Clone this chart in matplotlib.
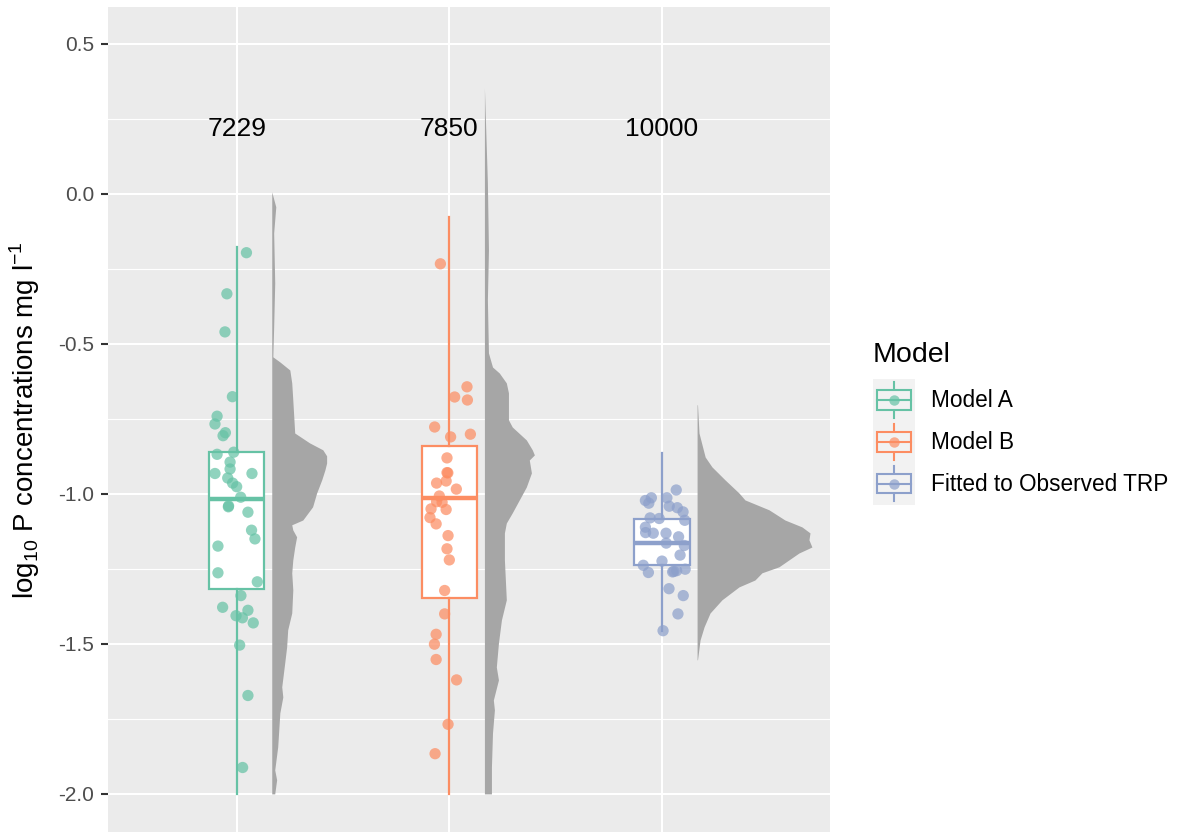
import numpy as np
import matplotlib
matplotlib.use('Agg')
import matplotlib.pyplot as plt
from matplotlib.legend_handler import HandlerBase
from matplotlib.lines import Line2D
from matplotlib.patches import Rectangle

# groups and colours
models = ['Model A', 'Model B', 'Fitted to Observed TRP']
colors = ['#66C2A5', '#FC8D62', '#8DA0CB']
counts = [7229, 7850, 10000]

# boxplot summaries (log10 P)
box_q1 = [-1.318, -1.348, -1.237]
box_med = [-1.018, -1.012, -1.163]
box_q3 = [-0.861, -0.839, -1.084]
box_lo = [-2.0, -2.0, -1.456]
box_hi = [-0.176, -0.076, -0.862]

# jittered sample points
model_a_y = [-0.196, -0.333, -0.46, -0.676, -0.741, -0.767, -0.796, -0.806, -0.868,
             -0.861, -0.894, -0.917, -0.932, -0.932, -0.947, -0.964, -0.976, -1.011,
             -1.043, -1.040, -1.061, -1.121, -1.15, -1.174, -1.263, -1.293, -1.339,
             -1.378, -1.388, -1.406, -1.413, -1.43, -1.504, -1.672, -1.912]
model_a_jit = [0.046, -0.046, -0.055, -0.020, -0.092, -0.102, -0.053, -0.064, -0.092,
               -0.014, -0.031, -0.031, -0.102, 0.072, -0.042, -0.019, 0.0, 0.019,
               -0.039, -0.038, 0.053, 0.070, 0.086, -0.088, -0.088, 0.097, 0.020,
               -0.066, 0.053, -0.003, 0.027, 0.078, 0.014, 0.053, 0.028]

model_b_y = [-0.233, -0.643, -0.677, -0.687, -0.777, -0.81, -0.801, -0.88, -0.929,
             -0.93, -0.964, -0.957, -0.984, -1.007, -1.026, -1.028, -1.05, -1.052,
             -1.079, -1.1, -1.139, -1.183, -1.22, -1.322, -1.40, -1.468, -1.501,
             -1.552, -1.62, -1.768, -1.866]
model_b_jit = [-0.042, 0.083, 0.025, 0.085, -0.069, 0.006, 0.099, -0.011, -0.011,
               -0.007, -0.060, -0.015, 0.033, -0.047, -0.060, -0.034, -0.086, -0.015,
               -0.091, -0.062, -0.006, -0.011, 0.0, -0.022, -0.022, -0.062, -0.070,
               -0.062, 0.034, -0.006, -0.067]

fitted_y = [-0.987, -1.022, -1.013, -1.031, -1.013, -1.041, -1.046, -1.06, -1.08,
            -1.082, -1.088, -1.111, -1.129, -1.131, -1.131, -1.143, -1.164, -1.172,
            -1.204, -1.224, -1.238, -1.262, -1.26, -1.256, -1.251, -1.258, -1.316,
            -1.339, -1.40, -1.456]
fitted_jit = [0.067, -0.078, -0.050, -0.062, 0.023, 0.034, 0.072, 0.099, -0.056,
              -0.013, 0.107, -0.078, -0.077, -0.041, 0.019, 0.078, 0.020, 0.105,
              0.085, 0.0, -0.088, -0.064, 0.050, 0.069, 0.109, 0.056, 0.033,
              0.100, 0.075, 0.005]

# half-violin outlines: level and width (x units)
dens_a_y = [0.007, -0.043, -0.13, -0.297, -0.443, -0.543, -0.56, -0.587, -0.63, -0.687,
            -0.797, -0.83, -0.853, -0.873, -0.897, -0.92, -0.953, -0.997, -1.043, -1.087,
            -1.103, -1.12, -1.143, -1.177, -1.22, -1.263, -1.32, -1.397, -1.453, -1.51,
            -1.563, -1.643, -1.677, -1.73, -1.843, -1.92, -1.953, -2.0]
dens_a_w = [0.0, 0.019, 0.009, 0.014, 0.009, 0.005, 0.038, 0.085, 0.094, 0.099,
            0.108, 0.178, 0.240, 0.258, 0.258, 0.250, 0.235, 0.211, 0.192, 0.146,
            0.094, 0.099, 0.117, 0.108, 0.099, 0.094, 0.099, 0.094, 0.075, 0.07,
            0.061, 0.047, 0.052, 0.038, 0.028, 0.014, 0.023, 0.014]

dens_b_y = [0.353, 0.037, -0.187, -0.353, -0.53, -0.577, -0.597, -0.63, -0.663, -0.753,
            -0.777, -0.82, -0.853, -0.87, -0.887, -0.93, -0.977, -1.02, -1.063, -1.097,
            -1.13, -1.22, -1.353, -1.42, -1.497, -1.577, -1.62, -1.687, -1.72, -1.797,
            -1.91, -2.0]
dens_b_w = [0.0, 0.014, 0.019, 0.014, 0.019, 0.038, 0.07, 0.103, 0.113, 0.113,
            0.131, 0.197, 0.225, 0.235, 0.211, 0.221, 0.197, 0.164, 0.131, 0.103,
            0.094, 0.094, 0.103, 0.08, 0.066, 0.056, 0.066, 0.042, 0.047, 0.038,
            0.033, 0.033]

dens_c_y = [-0.703, -0.797, -0.877, -0.91, -0.953, -0.997, -1.02, -1.053, -1.087, -1.11,
            -1.13, -1.153, -1.177, -1.197, -1.22, -1.243, -1.263, -1.287, -1.31, -1.353,
            -1.397, -1.443, -1.487, -1.553]
dens_c_w = [0.002, 0.009, 0.038, 0.07, 0.131, 0.197, 0.225, 0.338, 0.413, 0.493,
            0.531, 0.526, 0.54, 0.479, 0.432, 0.385, 0.305, 0.272, 0.197, 0.117,
            0.061, 0.033, 0.014, 0.002]

y_ticks = [-2.0, -1.5, -1.0, -0.5, 0.0, 0.5]


class BoxKeyHandler(HandlerBase):
    # ggplot-like boxplot legend key
    def create_artists(self, legend, orig_handle, xdescent, ydescent,
                       width, height, fontsize, trans):
        c = orig_handle.get_color()
        x0, y0 = -xdescent, -ydescent
        xc = x0 + width / 2
        yc = y0 + height / 2
        bg = Rectangle((x0, y0), width, height, facecolor='#F2F2F2',
                       edgecolor='none', transform=trans)
        whisk = Line2D([xc, xc], [y0 + 0.08 * height, y0 + 0.92 * height],
                       color=c, lw=1.5, transform=trans)
        box = Rectangle((x0 + 0.1 * width, y0 + 0.27 * height), 0.8 * width,
                        0.46 * height, facecolor='#F2F2F2', edgecolor=c,
                        lw=1.5, transform=trans)
        med = Line2D([x0 + 0.1 * width, x0 + 0.9 * width], [yc, yc],
                     color=c, lw=1.5, transform=trans)
        dot = Line2D([xc], [yc], marker='o', ms=7.5, color=c, alpha=0.7,
                     mec='none', transform=trans)
        return [bg, whisk, box, med, dot]


def main():
    plt.rcParams['font.family'] = ['Liberation Sans', 'DejaVu Sans']
    plt.rcParams['mathtext.fontset'] = 'custom'
    plt.rcParams['mathtext.rm'] = 'Liberation Sans'
    plt.rcParams['axes.unicode_minus'] = False

    fig = plt.figure(figsize=(11.78, 8.32), dpi=100)
    ax = fig.add_axes([108 / 1178, 0.0, 722 / 1178, 825 / 832])
    ax.set_facecolor('#EBEBEB')
    for s in ax.spines.values():
        s.set_visible(False)

    pos = np.arange(1, len(models) + 1)

    # half violins
    dens = [(dens_a_y, dens_a_w), (dens_b_y, dens_b_w), (dens_c_y, dens_c_w)]
    for p, (dy, dw) in zip(pos, dens):
        base = p + 0.165
        ax.fill_betweenx(dy, base, base + np.array(dw), color='#A6A6A6',
                         lw=0, zorder=2)

    # boxplots
    stats = []
    for i in range(len(models)):
        stats.append(dict(med=box_med[i], q1=box_q1[i], q3=box_q3[i],
                          whislo=box_lo[i], whishi=box_hi[i], fliers=[]))
    bp = ax.bxp(stats, positions=pos, widths=0.26, patch_artist=True,
                showcaps=False, manage_ticks=False, zorder=3)
    for i, c in enumerate(colors):
        bp['boxes'][i].set(facecolor='white', edgecolor=c, linewidth=1.6)
        bp['medians'][i].set(color=c, linewidth=3.2)
        for w in bp['whiskers'][2 * i:2 * i + 2]:
            w.set(color=c, linewidth=1.6)

    # jittered points
    pts = [(model_a_y, model_a_jit), (model_b_y, model_b_jit), (fitted_y, fitted_jit)]
    for p, c, (py, pj) in zip(pos, colors, pts):
        ax.scatter(p + np.array(pj), py, s=66, color=c, alpha=0.72,
                   edgecolors='none', zorder=4)

    # sample sizes
    for p, n in zip(pos, counts):
        ax.text(p, 0.217, str(n), ha='center', va='center', fontsize=19,
                color='black', zorder=5)

    ax.set_xlim(0.395, 3.79)
    ax.set_ylim(-2.127, 0.623)
    ax.set_xticks(pos)
    ax.set_xticklabels([])
    ax.tick_params(axis='x', length=0)
    ax.set_yticks(y_ticks)
    ax.set_yticklabels([f'{v:.1f}' for v in y_ticks])
    ax.set_yticks(np.array(y_ticks[:-1]) + 0.25, minor=True)
    ax.tick_params(axis='y', which='major', labelsize=15, labelcolor='#4D4D4D',
                   color='#333333', length=5, width=1.5, pad=5)
    ax.tick_params(axis='y', which='minor', length=0)
    ax.grid(True, which='major', color='white', linewidth=1.5)
    ax.grid(True, which='minor', axis='y', color='white', linewidth=0.8)
    ax.set_axisbelow(True)

    fig.text(25 / 1178, (832 - 420) / 832,
             r'$\mathregular{log_{10}}$ P concentrations mg l$^{\mathregular{-1}}$',
             rotation=90, ha='center', va='center', fontsize=20)

    handles = [Line2D([], [], color=c) for c in colors]
    leg = fig.legend(handles, models, loc='upper left',
                     bbox_to_anchor=(873 / 1178, 1 - 342 / 832),
                     frameon=False, fontsize=16.3, title='Model',
                     title_fontsize=20.5, handler_map={Line2D: BoxKeyHandler()},
                     handlelength=1.85, handleheight=2.47, labelspacing=0.0,
                     handletextpad=0.71, borderpad=0.0, borderaxespad=0.0,
                     alignment='left')
    # extra gap between title and keys
    leg._legend_box.sep = 8

    fig.savefig('out.png', dpi=100)
    plt.close(fig)


if __name__ == '__main__':
    main()
